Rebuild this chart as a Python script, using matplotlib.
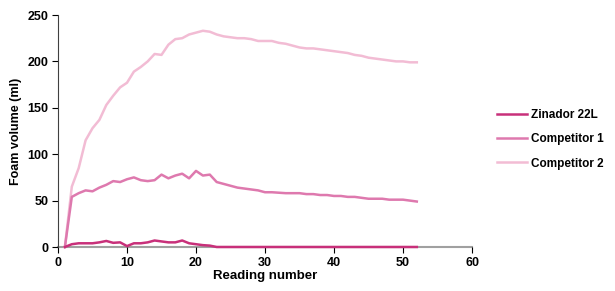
import matplotlib
matplotlib.use("Agg")
import matplotlib.pyplot as plt
import numpy as np

plt.rcParams['font.family'] = ['Liberation Sans', 'DejaVu Sans']

readings = list(range(1, 53))

zinador = [0, 3, 4, 4, 4, 5, 6.5, 4.5, 5, 1,
           4, 4, 5, 7, 6, 5, 5, 7, 4, 3,
           2, 1.5, 0, 0, 0, 0, 0, 0, 0, 0,
           0, 0, 0, 0, 0, 0, 0, 0, 0, 0,
           0, 0, 0, 0, 0, 0, 0, 0, 0, 0,
           0, 0]

competitor1 = [0, 54, 58, 61, 60, 64, 67, 71, 70, 73,
               75, 72, 71, 72, 78, 74, 77, 79, 74, 82,
               77, 78, 70, 68, 66, 64, 63, 62, 61, 59,
               59, 58.5, 58, 58, 58, 57, 57, 56, 56, 55,
               55, 54, 54, 53, 52, 52, 52, 51, 51, 51,
               50, 49]

competitor2 = [0, 65, 85, 115, 128, 137, 153, 163, 172, 177,
               189, 194, 200, 208, 207, 218, 224, 225, 229, 231,
               233, 232, 229, 227, 226, 225, 225, 224, 222, 222,
               222, 220, 219, 217, 215, 214, 214, 213, 212, 211,
               210, 209, 207, 206, 204, 203, 202, 201, 200, 200,
               199, 199]

series_names = ["Zinador 22L", "Competitor 1", "Competitor 2"]
colors = ["#C8307A", "#DE79AE", "#F2BCD4"]

fig = plt.figure(figsize=(6.15, 2.91), dpi=100)
ax = fig.add_axes([58/615, 1-247/291, (472-58)/615, (247-15)/291])

for i, (vals, name, c) in enumerate(zip([zinador, competitor1, competitor2], series_names, colors)):
    ax.plot(readings, vals, color=c, lw=1.8, label=name, solid_joinstyle='round',
            clip_on=False, zorder=5 - i)

ax.set_xlim(0, 60)
ax.set_ylim(0, 250)
ax.set_xticks(np.arange(0, 61, 10))
ax.set_yticks(np.arange(0, 251, 50))
for s in ['top', 'right']:
    ax.spines[s].set_visible(False)
ax.spines['left'].set_color('#404040')
ax.spines['bottom'].set_color('#A0A0A0')
ax.spines['bottom'].set_linewidth(1.5)
ax.spines['bottom'].set_zorder(1)
ax.tick_params(axis='both', labelsize=9, length=4, direction='out', pad=3)
for lbl in ax.get_xticklabels() + ax.get_yticklabels():
    lbl.set_fontweight('bold')
ax.set_xlabel("Reading number", fontsize=9.5, fontweight='bold', labelpad=1)
ax.set_ylabel("Foam volume (ml)", fontsize=9, fontweight='bold', labelpad=4)

leg = fig.legend(loc='upper left', bbox_to_anchor=(492/615, 1-104/291), frameon=False,
                 fontsize=8.5, handlelength=2.6, handletextpad=0.3, labelspacing=1.05,
                 borderaxespad=0)
for t in leg.get_texts():
    t.set_fontweight('bold')

fig.savefig("out.png", dpi=100)
